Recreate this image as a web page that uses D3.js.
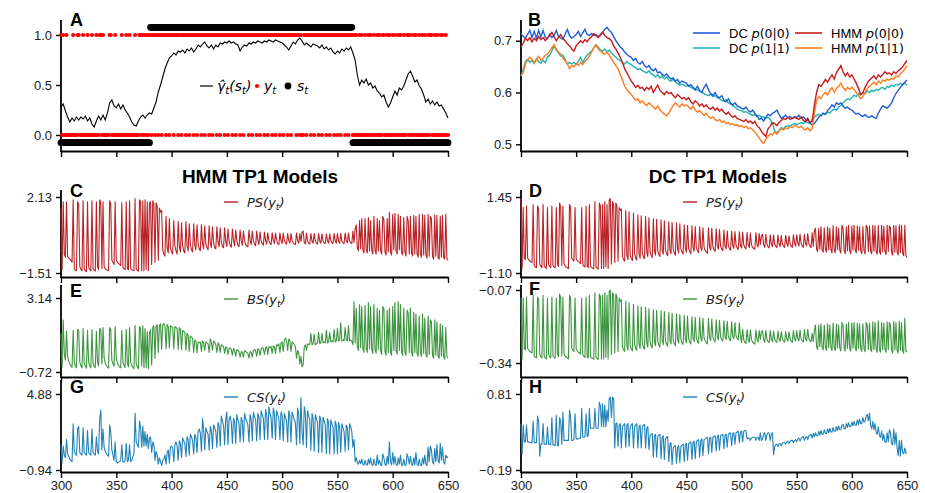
<!doctype html>
<html>
<head>
<meta charset="utf-8">
<script src="https://cdn.jsdelivr.net/npm/d3@7"></script>
<style>
  body { margin: 0; background: #fff; }
  svg text { font-family: "Liberation Sans", Arial, sans-serif; }
  .math { font-family: "DejaVu Sans", sans-serif; font-style: italic; }
  .letter, .title { font-weight: bold; }
</style>
</head>
<body>
<svg id="chart" width="925" height="493"></svg>
<script>
// time axis shared by every panel
var tStart = 300, tEnd = 650;
var xTickValues = [300, 350, 400, 450, 500, 550, 600, 650];

// hidden state runs [from, to, s]
var stRuns = [[300, 380, 0], [381, 563, 1], [564, 650, 0]];

// observations y_t, one per step 300..650
var yt = [
  1,0,1,0,0,1,0,0,0,0,0,1,0,0,0,1,1,0,0,0,1,0,0,0,1,
  0,0,0,1,0,0,0,1,0,0,1,1,0,1,0,0,0,0,0,1,1,0,0,0,1,
  0,0,0,0,0,1,0,0,0,1,0,0,1,0,0,0,0,1,0,0,0,1,1,0,1,
  0,1,0,1,0,1,1,0,1,1,0,1,1,0,1,1,0,1,1,1,0,1,1,0,1,
  1,1,0,1,1,1,0,1,1,0,1,1,1,0,1,1,0,1,1,1,0,1,1,0,1,
  1,1,0,1,1,0,1,1,1,0,1,1,0,1,1,1,0,1,1,0,1,1,1,0,1,
  1,0,1,1,1,0,1,1,0,1,1,1,0,1,1,0,1,1,1,1,0,1,1,0,1,
  1,1,0,1,1,0,1,1,1,0,1,1,0,1,1,1,0,1,1,0,1,1,1,0,1,
  1,0,1,1,1,0,1,1,0,1,1,1,1,0,1,1,0,1,0,0,1,1,0,1,1,
  1,0,1,1,0,1,1,1,0,1,1,0,1,1,1,0,1,1,0,1,1,1,0,1,1,
  0,1,1,0,1,1,1,0,1,1,0,1,1,1,0,1,0,1,0,0,1,0,1,0,0,
  1,0,0,1,0,1,0,0,1,0,0,1,0,1,0,0,1,1,0,0,1,0,1,0,0,
  1,0,1,0,0,1,0,1,0,0,1,0,0,1,1,0,1,0,0,1,0,1,0,0,1,
  0,0,1,0,1,0,0,1,0,1,1,0,0,1,0,1,0,0,1,0,1,0,0,1,0,0
];

// filtered state probability, every 2nd step 300..650
var gammaHat = [
  .28,.31,.24,.18,.13,.17,.14,.18,.15,.18,.16,.19,.14,.17,.11,.08,.14,.19,.15,.2,.15,.22,.32,.35,.29,
  .27,.31,.26,.3,.25,.22,.18,.13,.1,.09,.14,.18,.2,.17,.2,.22,.21,.27,.33,.43,.5,.58,.66,.72,.77,
  .79,.82,.8,.84,.83,.85,.82,.86,.84,.87,.83,.86,.9,.88,.91,.93,.89,.87,.9,.86,.9,.88,.92,.91,.93,
  .92,.94,.92,.93,.91,.9,.84,.88,.9,.89,.92,.91,.93,.92,.94,.93,.92,.94,.93,.95,.94,.93,.95,.94,.93,
  .92,.9,.88,.85,.89,.93,.91,.95,.97,.94,.9,.92,.9,.88,.91,.9,.89,.87,.9,.86,.88,.85,.87,.83,.81,
  .84,.82,.86,.84,.87,.85,.88,.82,.75,.6,.5,.55,.52,.56,.5,.52,.47,.49,.44,.42,.38,.4,.33,.28,.32,
  .38,.44,.4,.47,.45,.49,.55,.61,.64,.59,.53,.55,.49,.46,.4,.33,.36,.31,.34,.3,.33,.29,.3,.26,.22,
  .17
];

// transition probabilities, every 2nd step 300..650
var dcP00 = [
  .714,.708,.705,.712,.72,.706,.718,.705,.72,.707,.72,.706,.704,.712,.706,.71,.72,.708,.705,.703,.712,.722,.71,.705,.708,
  .712,.718,.708,.715,.722,.712,.71,.714,.71,.712,.708,.71,.716,.722,.726,.72,.716,.708,.7,.694,.688,.684,.678,.674,.67,
  .668,.662,.666,.658,.655,.66,.652,.648,.652,.645,.642,.646,.638,.64,.635,.632,.636,.63,.626,.628,.622,.625,.618,.622,.62,
  .618,.612,.615,.61,.606,.612,.604,.6,.61,.616,.605,.598,.594,.6,.592,.59,.594,.585,.582,.588,.58,.576,.58,.574,.572,
  .57,.568,.572,.565,.562,.566,.56,.555,.548,.55,.545,.552,.558,.555,.56,.562,.566,.558,.55,.553,.556,.551,.554,.55,.553,
  .552,.556,.55,.553,.548,.546,.542,.537,.54,.546,.552,.556,.56,.558,.565,.57,.576,.572,.58,.577,.58,.574,.57,.572,.568,
  .566,.562,.558,.56,.556,.554,.557,.553,.552,.555,.552,.55,.56,.568,.574,.572,.57,.574,.58,.59,.598,.604,.61,.615,.62,
  .624
];
var dcP11 = [
  .632,.645,.66,.664,.658,.662,.656,.665,.66,.656,.662,.658,.668,.672,.68,.69,.682,.676,.67,.672,.664,.655,.658,.655,.658,
  .654,.66,.668,.658,.666,.672,.676,.68,.686,.692,.688,.682,.68,.684,.678,.682,.676,.672,.668,.664,.662,.658,.655,.66,.656,
  .654,.65,.648,.644,.646,.642,.64,.638,.642,.636,.634,.63,.634,.628,.632,.626,.63,.624,.622,.626,.62,.618,.614,.616,.614,
  .612,.614,.61,.608,.604,.606,.602,.6,.598,.596,.594,.597,.592,.594,.59,.588,.585,.583,.586,.58,.578,.574,.572,.568,.566,
  .565,.562,.563,.56,.558,.556,.557,.554,.556,.552,.553,.55,.552,.548,.54,.526,.522,.527,.532,.53,.534,.536,.535,.538,.54,
  .538,.54,.542,.54,.544,.542,.54,.548,.552,.556,.558,.555,.56,.558,.562,.56,.565,.568,.566,.572,.575,.58,.584,.588,.586,
  .59,.595,.592,.598,.596,.6,.598,.603,.6,.604,.602,.606,.604,.608,.61,.606,.612,.61,.614,.612,.616,.614,.618,.615,.618,
  .614
];
var hmmP00 = [
  .688,.695,.705,.7,.706,.698,.705,.7,.708,.702,.706,.7,.705,.71,.716,.708,.7,.706,.712,.704,.7,.694,.69,.684,.68,
  .69,.695,.7,.696,.702,.698,.704,.708,.714,.71,.706,.712,.716,.71,.706,.704,.7,.69,.684,.676,.668,.658,.646,.638,.63,
  .622,.616,.61,.614,.608,.61,.604,.61,.606,.612,.6,.608,.614,.604,.6,.596,.602,.598,.6,.594,.59,.596,.592,.588,.59,
  .586,.59,.582,.578,.584,.58,.574,.578,.572,.576,.57,.568,.572,.566,.57,.564,.568,.562,.558,.562,.556,.552,.555,.55,.548,
  .546,.544,.548,.542,.545,.54,.544,.536,.532,.525,.52,.515,.53,.535,.542,.54,.536,.542,.546,.55,.548,.552,.548,.55,.552,
  .55,.548,.553,.546,.544,.55,.542,.545,.575,.6,.615,.612,.618,.625,.62,.628,.634,.626,.638,.645,.652,.64,.632,.638,.63,
  .634,.626,.618,.608,.596,.6,.61,.618,.624,.628,.632,.626,.634,.63,.635,.64,.636,.638,.634,.64,.637,.642,.645,.65,.656,
  .662
];
var hmmP11 = [
  .632,.638,.655,.662,.668,.664,.658,.664,.67,.662,.666,.672,.674,.68,.686,.692,.684,.678,.674,.666,.662,.656,.646,.652,.65,
  .656,.652,.658,.654,.66,.664,.67,.678,.686,.692,.684,.68,.676,.674,.678,.672,.665,.658,.652,.645,.635,.624,.612,.606,.6,
  .596,.59,.585,.588,.58,.584,.578,.575,.58,.576,.572,.568,.574,.566,.562,.558,.555,.56,.568,.575,.58,.576,.572,.578,.574,
  .576,.572,.568,.574,.566,.562,.565,.56,.556,.56,.554,.55,.553,.548,.545,.548,.542,.545,.54,.542,.538,.54,.536,.538,.534,
  .536,.532,.535,.53,.532,.528,.524,.518,.512,.506,.502,.51,.515,.52,.518,.524,.52,.526,.53,.528,.532,.53,.535,.532,.536,
  .535,.532,.535,.53,.528,.532,.526,.53,.56,.585,.592,.588,.596,.6,.595,.604,.61,.6,.608,.612,.618,.61,.604,.61,.606,
  .61,.606,.6,.594,.588,.592,.6,.608,.612,.616,.62,.615,.622,.618,.624,.622,.626,.624,.628,.626,.632,.63,.636,.64,.645,
  .652
];

// scores, one per step 300..650
var hmmPS = [
  1.6,-1.35,1.9,-0.6,-0.75,1.9,-0.7,-0.8,-0.85,-0.9,-1.0,2.0,-1.3,-1.38,-1.4,1.9,1.8,-1.2,-1.35,-1.4,1.95,-1.3,-1.4,-1.45,1.9,
  -1.2,-1.35,-1.4,1.95,-1.3,-1.38,-1.42,1.9,-1.2,-1.35,2.0,1.85,-1.3,1.9,-1.2,-1.3,-1.35,-1.38,-1.4,1.95,1.8,-0.9,-1.0,-1.1,1.9,
  -0.9,-1.0,-1.05,-1.1,-1.15,1.85,-1.25,-1.3,-1.35,1.9,-1.3,-1.35,1.95,-1.3,-1.35,-1.38,-1.4,2.05,-1.3,-1.38,-1.42,2.0,1.9,-1.4,1.95,
  -1.4,2.0,-1.35,1.9,-1.4,1.85,1.9,-1.1,1.95,1.8,-1.0,1.85,1.7,-0.9,1.6,1.4,1.5,-0.4,-0.6,-0.7,1.2,-0.3,-0.55,1.1,-0.3,
  -0.5,-0.6,1.0,-0.2,-0.45,-0.6,0.95,-0.25,-0.5,0.9,-0.2,-0.45,-0.55,0.95,-0.2,-0.45,0.85,-0.15,-0.4,-0.5,0.85,-0.15,-0.4,0.8,-0.1,
  -0.35,-0.45,0.8,-0.1,-0.35,0.75,-0.1,-0.3,-0.4,0.75,-0.05,-0.3,0.7,-0.05,-0.3,-0.35,0.7,0,-0.25,0.65,0,-0.25,-0.3,0.65,0,
  -0.25,0.6,0.05,-0.2,-0.28,0.6,0.05,-0.2,0.55,0.05,-0.2,-0.25,0.55,0.05,-0.18,0.5,0.05,-0.15,-0.22,-0.25,0.55,0.05,-0.15,0.5,0.05,
  -0.15,-0.2,0.5,0.05,-0.15,0.45,0.05,-0.12,-0.18,0.45,0.05,-0.12,0.42,0.05,-0.1,-0.15,0.42,0.05,-0.1,0.4,0.05,-0.1,-0.15,0.4,0.05,
  -0.1,0.4,0.05,-0.08,-0.12,0.38,0.05,-0.08,0.38,0.05,-0.08,-0.12,-0.15,0.4,0.05,-0.08,0.38,0,0.45,0.5,-0.05,-0.12,0.4,0.02,-0.1,
  -0.12,0.38,0.02,-0.08,0.38,0.03,-0.08,-0.12,0.38,0.03,-0.08,0.36,0.03,-0.08,-0.1,0.36,0.03,-0.08,0.36,0.03,-0.06,-0.1,0.38,0.03,-0.08,
  0.38,0.02,-0.08,0.38,0.02,-0.06,-0.1,0.4,0.02,-0.06,0.4,0.02,-0.06,-0.1,0.5,-0.05,0.6,0.8,-0.3,-0.45,1.0,-0.35,1.1,-0.4,-0.55,
  1.1,-0.4,-0.55,1.15,-0.45,1.0,-0.4,-0.6,1.2,-0.45,-0.6,1.1,-0.45,1.0,-0.45,-0.6,1.2,1.05,-0.5,-0.65,1.1,-0.5,1.4,-0.5,-0.65,
  1.3,-0.4,1.35,-0.45,-0.6,1.3,-0.4,1.2,-0.5,-0.65,1.15,-0.5,-0.7,1.2,1.0,-0.6,1.2,-0.55,-0.7,1.25,-0.6,1.2,-0.6,-0.75,1.3,
  -0.6,-0.75,1.3,-0.65,1.25,-0.65,-0.8,1.3,-0.7,1.2,1.1,-0.7,-0.85,1.25,-0.7,1.25,-0.75,-0.85,1.2,-0.75,1.25,-0.75,-0.85,1.3,-0.8,-0.9
];
var hmmBS = [
  1.3,-0.45,1.99,0.2,-0.1,1.4,0.1,-0.15,-0.3,-0.4,-0.48,1.45,-0.2,-0.4,-0.5,1.5,1.45,-0.2,-0.4,-0.5,1.55,-0.25,-0.42,-0.52,1.45,
  -0.2,-0.4,-0.5,1.5,-0.25,-0.42,-0.5,1.4,-0.2,-0.4,1.55,1.5,-0.3,1.6,0,-0.25,-0.38,-0.46,-0.52,1.6,1.5,-0.1,-0.3,-0.42,1.65,
  0,-0.25,-0.38,-0.46,-0.5,1.45,-0.2,-0.38,-0.48,1.5,-0.25,-0.45,1.6,-0.2,-0.38,-0.48,-0.55,1.7,-0.25,-0.45,-0.55,1.65,1.55,-0.4,1.7,
  -0.5,1.55,-0.5,1.4,-0.55,1.3,1.5,-0.35,1.6,1.7,0,1.65,1.75,0.3,1.7,1.8,0.45,1.75,1.8,1.7,0.5,1.75,1.65,0.55,1.7,
  1.65,1.6,0.5,1.65,1.6,1.55,0.45,1.6,1.5,0.45,1.45,1.4,1.35,0.4,1.3,1.2,0.35,1.15,1.1,1.05,0.3,0.95,0.9,0.3,0.85,
  0.8,0.85,0.35,0.9,0.8,0.4,0.85,0.8,0.75,0.3,1.0,0.85,0.4,0.9,0.85,0.7,0.3,0.8,0.7,0.3,0.7,0.65,0.6,0.25,0.6,
  0.55,0.2,0.5,0.55,0.45,0.15,0.5,0.4,0.1,0.45,0.4,0.35,0.05,0.35,0.3,0.05,0.4,0.35,0.3,0.25,0,0.35,0.3,0.05,0.4,
  0.45,0.4,0.1,0.5,0.45,0.15,0.5,0.55,0.5,0.2,0.55,0.6,0.2,0.6,0.55,0.6,0.25,0.65,0.6,0.25,0.7,0.65,0.75,0.3,0.8,
  0.85,0.35,0.95,1.05,0.9,0.4,1.0,0.9,0.35,0.85,0.8,0.7,0.6,0,0.4,0.3,-0.3,0.1,-0.45,-0.35,0.6,0.7,0.4,0.75,0.7,
  0.75,1.3,0.7,0.75,1.25,0.7,0.75,0.8,1.35,0.75,0.8,1.3,0.8,0.85,0.8,1.45,0.8,0.85,1.35,0.85,0.9,0.85,1.5,0.85,0.9,
  1.55,0.9,0.95,1.85,0.9,0.95,0.9,1.6,0.95,0.9,1.7,0.9,0.95,0.9,0.7,2.95,0.8,2.6,0.6,0.4,2.8,0.55,2.7,0.5,0.3,
  2.75,0.5,0.3,2.9,0.5,2.7,0.45,0.25,2.8,0.45,0.25,2.6,0.45,2.5,0.4,0.2,2.7,2.6,0.35,0.15,2.5,0.3,2.6,0.35,0.15,
  2.7,0.4,2.9,0.4,0.2,2.95,0.4,2.8,0.35,0.15,2.6,0.35,0.15,2.5,2.4,0.3,2.6,0.3,0.1,2.4,0.3,2.3,0.25,0.1,2.2,
  0.3,0.1,2.3,0.25,2.1,0.2,0.05,2.2,0.2,2.0,1.9,0.15,0,2.0,0.15,1.9,0.1,0,1.8,0.1,1.7,0.1,-0.05,1.6,0.1,0
];
var hmmCS = [
  1.0,-0.4,0.9,0.2,0,1.4,0.3,0.1,-0.1,-0.2,-0.3,2.6,0.5,0.3,0.2,2.2,2.4,0.4,0.3,0.2,2.3,0.4,0.3,0.2,2.1,
  0.4,0.3,0.2,2.2,0.4,0.3,0.2,1.6,0.5,0.3,3.0,3.65,0.6,2.2,0.8,0.5,0.3,0.2,0.1,2.5,2.0,0.6,0.2,-0.2,1.2,
  -0.3,-0.4,-0.35,-0.3,-0.2,1.0,-0.3,-0.35,-0.2,1.1,-0.3,-0.2,1.0,-0.3,-0.2,0.1,0.3,3.4,1.2,1.0,0.8,2.8,2.3,0.8,2.4,
  0.9,2.0,0.9,1.8,0.7,1.5,1.6,0.4,1.2,1.0,-0.2,0.5,0.2,-0.5,0,-0.3,-0.6,-0.2,-0.1,0.2,-0.5,0.4,0.6,-0.4,0.8,
  0.9,0.7,-0.3,1.0,1.2,0.9,-0.2,1.3,1.1,0,1.5,1.3,1.1,0.1,1.6,1.4,0.2,1.8,1.6,1.3,0.3,1.8,1.6,0.4,2.0,
  2.2,1.9,0.5,3.0,2.2,0.6,2.3,2.0,1.8,0.6,2.4,2.1,0.7,2.5,2.3,2.0,0.8,2.7,2.4,0.9,3.2,2.8,2.5,1.0,3.0,
  3.5,1.0,2.9,3.2,2.7,1.1,3.0,2.8,1.1,3.3,2.9,2.6,1.2,3.1,2.8,1.2,3.4,3.0,2.8,2.5,1.2,3.3,3.0,1.3,3.5,
  3.1,2.9,1.3,3.4,3.1,1.4,3.6,3.3,3.0,1.4,3.7,3.3,1.4,3.9,3.4,3.1,1.5,3.8,3.4,1.4,3.6,3.3,3.0,1.4,3.5,
  3.2,1.3,3.4,3.1,2.8,1.2,3.6,3.2,1.2,3.5,3.2,2.9,2.7,1.0,3.8,3.3,1.1,4.6,2.0,1.0,3.9,3.4,0.8,3.6,3.2,
  2.9,0.6,3.4,3.0,0.5,3.3,3.0,2.7,0.4,3.2,2.9,0.4,3.1,2.8,2.5,0.3,3.0,2.7,0.3,2.9,2.6,2.3,0.3,2.8,2.5,
  0.3,2.7,2.4,0.4,2.6,2.3,2.0,0.5,2.5,2.3,0.6,2.6,2.4,2.0,0.8,1.4,-0.3,0,-0.4,-0.5,-0.2,-0.45,-0.1,-0.5,-0.55,
  -0.2,-0.5,-0.55,-0.1,-0.5,0,-0.5,-0.6,-0.1,-0.5,-0.6,0.2,-0.5,-0.2,-0.55,-0.6,0.3,0,-0.5,-0.6,0.1,-0.5,1.2,-0.3,-0.55,
  0.4,-0.5,0.1,-0.5,-0.6,0,-0.5,0.2,-0.55,-0.6,-0.1,-0.55,-0.6,0.3,0,-0.5,0.1,-0.5,-0.6,0,-0.55,0.4,-0.5,-0.6,-0.1,
  -0.55,-0.6,0,-0.5,0.2,-0.5,-0.6,0.8,-0.3,0.9,0.6,-0.3,-0.5,0.7,-0.3,1.0,-0.2,-0.4,1.1,-0.2,0.8,-0.3,-0.5,0.2,0,0.1
];
var dcPS = [
  1.42,-0.95,1.1,-0.6,-0.65,1.15,-0.6,-0.65,-0.7,-0.72,-0.75,1.2,-0.85,-0.9,-0.92,1.15,1.05,-0.8,-0.88,-0.92,1.2,-0.85,-0.92,-0.95,1.1,
  -0.8,-0.88,-0.92,1.15,-0.85,-0.9,-0.93,1.1,-0.8,-0.88,1.25,1.1,-0.85,1.15,-0.8,-0.86,-0.9,-0.92,-0.95,1.2,1.1,-0.6,-0.65,-0.7,1.1,
  -0.62,-0.68,-0.72,-0.75,-0.78,1.1,-0.82,-0.86,-0.9,1.15,-0.88,-0.92,1.2,-0.88,-0.92,-0.94,-0.96,1.3,-0.9,-0.94,-0.97,1.25,1.15,-0.95,1.2,
  -0.95,1.3,-0.9,1.2,-0.95,1.35,1.4,-0.8,1.3,1.2,-0.75,1.25,1.15,-0.7,1.1,1.0,1.05,-0.55,-0.65,-0.7,1.0,-0.5,-0.65,0.95,-0.5,
  -0.62,-0.68,0.9,-0.45,-0.6,-0.66,0.85,-0.45,-0.6,0.82,-0.42,-0.56,-0.62,0.8,-0.4,-0.55,0.75,-0.38,-0.52,-0.58,0.72,-0.36,-0.5,0.7,-0.35,
  -0.48,-0.55,0.68,-0.34,-0.47,0.65,-0.33,-0.45,-0.52,0.62,-0.32,-0.45,0.6,-0.3,-0.43,-0.5,0.58,-0.3,-0.42,0.55,-0.28,-0.4,-0.46,0.52,-0.28,
  -0.4,0.5,-0.27,-0.38,-0.45,0.48,-0.26,-0.37,0.46,-0.25,-0.36,-0.42,0.45,-0.25,-0.35,0.42,-0.24,-0.34,-0.4,-0.44,0.42,-0.23,-0.33,0.4,-0.22,
  -0.32,-0.38,0.38,-0.2,-0.3,0.36,-0.2,-0.3,-0.35,0.34,-0.2,-0.29,0.32,-0.18,-0.28,-0.33,0.3,-0.18,-0.27,0.29,-0.17,-0.26,-0.31,0.28,-0.17,
  -0.26,0.27,-0.16,-0.25,-0.29,0.26,-0.15,-0.24,0.24,-0.15,-0.24,-0.28,-0.3,0.25,-0.14,-0.23,0.22,-0.14,0.15,0.2,-0.15,-0.24,0.2,-0.13,-0.22,
  -0.26,0.18,-0.13,-0.22,0.17,-0.12,-0.21,-0.25,0.17,-0.12,-0.21,0.16,-0.12,-0.2,-0.24,0.16,-0.11,-0.2,0.15,-0.11,-0.2,-0.24,0.18,-0.1,-0.2,
  0.18,-0.1,-0.2,0.2,-0.1,-0.19,-0.24,0.2,-0.1,-0.19,0.22,-0.1,-0.2,-0.25,0.25,-0.2,0.3,0.4,-0.3,-0.38,0.4,-0.3,0.45,-0.32,-0.4,
  0.42,-0.3,-0.4,0.45,-0.32,0.4,-0.3,-0.42,0.48,-0.32,-0.42,0.45,-0.32,0.4,-0.33,-0.43,0.5,0.42,-0.35,-0.45,0.45,-0.35,0.5,-0.35,-0.45,
  0.48,-0.33,0.5,-0.33,-0.43,0.48,-0.33,0.45,-0.35,-0.45,0.45,-0.35,-0.46,0.5,0.42,-0.38,0.48,-0.36,-0.46,0.5,-0.37,0.48,-0.37,-0.47,0.5,
  -0.37,-0.47,0.5,-0.38,0.47,-0.38,-0.48,0.5,-0.38,0.48,0.42,-0.4,-0.5,0.5,-0.4,0.48,-0.4,-0.5,0.52,-0.42,0.5,-0.42,-0.52,0.5,-0.52,-0.58
];
var dcBS = [
  -0.1,-0.325,-0.1,-0.286,-0.292,-0.096,-0.286,-0.292,-0.297,-0.3,-0.303,-0.09,-0.314,-0.319,-0.321,-0.096,-0.106,-0.308,-0.317,-0.321,-0.09,-0.314,-0.321,-0.325,-0.1,
  -0.308,-0.317,-0.321,-0.096,-0.314,-0.319,-0.322,-0.1,-0.308,-0.317,-0.085,-0.1,-0.314,-0.096,-0.308,-0.315,-0.319,-0.321,-0.325,-0.09,-0.1,-0.286,-0.292,-0.297,-0.1,
  -0.288,-0.295,-0.3,-0.303,-0.306,-0.1,-0.31,-0.315,-0.319,-0.096,-0.317,-0.321,-0.09,-0.317,-0.321,-0.323,-0.326,-0.08,-0.319,-0.323,-0.327,-0.085,-0.096,-0.325,-0.09,
  -0.325,-0.08,-0.319,-0.09,-0.325,-0.075,-0.07,-0.308,-0.08,-0.09,-0.303,-0.085,-0.096,-0.297,-0.1,-0.112,-0.106,-0.281,-0.292,-0.297,-0.112,-0.276,-0.292,-0.117,-0.276,
  -0.289,-0.295,-0.123,-0.27,-0.286,-0.293,-0.128,-0.27,-0.286,-0.132,-0.267,-0.282,-0.289,-0.134,-0.265,-0.281,-0.139,-0.262,-0.278,-0.284,-0.143,-0.26,-0.276,-0.145,-0.259,
  -0.273,-0.281,-0.147,-0.258,-0.272,-0.15,-0.257,-0.27,-0.278,-0.153,-0.256,-0.27,-0.156,-0.254,-0.268,-0.276,-0.158,-0.254,-0.267,-0.161,-0.252,-0.265,-0.271,-0.164,-0.252,
  -0.265,-0.166,-0.25,-0.262,-0.27,-0.169,-0.249,-0.261,-0.171,-0.248,-0.26,-0.267,-0.172,-0.248,-0.259,-0.175,-0.247,-0.258,-0.265,-0.269,-0.175,-0.246,-0.257,-0.177,-0.245,
  -0.256,-0.262,-0.18,-0.243,-0.254,-0.182,-0.243,-0.254,-0.259,-0.184,-0.243,-0.253,-0.186,-0.241,-0.252,-0.257,-0.188,-0.241,-0.25,-0.19,-0.24,-0.249,-0.255,-0.191,-0.24,
  -0.265,-0.215,-0.255,-0.264,-0.268,-0.216,-0.254,-0.263,-0.218,-0.254,-0.263,-0.267,-0.27,-0.218,-0.253,-0.262,-0.22,-0.253,-0.225,-0.22,-0.254,-0.263,-0.22,-0.252,-0.261,
  -0.265,-0.22,-0.252,-0.261,-0.222,-0.252,-0.26,-0.264,-0.222,-0.251,-0.26,-0.224,-0.251,-0.259,-0.263,-0.224,-0.25,-0.259,-0.225,-0.25,-0.259,-0.263,-0.22,-0.25,-0.258,
  -0.22,-0.25,-0.258,-0.218,-0.25,-0.258,-0.262,-0.216,-0.25,-0.258,-0.215,-0.25,-0.258,-0.262,-0.23,-0.26,-0.22,-0.2,-0.28,-0.29,-0.2,-0.28,-0.195,-0.282,-0.292,
  -0.2,-0.282,-0.293,-0.195,-0.283,-0.2,-0.282,-0.294,-0.192,-0.284,-0.294,-0.196,-0.284,-0.2,-0.285,-0.295,-0.19,-0.2,-0.286,-0.296,-0.195,-0.286,-0.19,-0.286,-0.296,
  -0.192,-0.284,-0.19,-0.285,-0.295,-0.192,-0.285,-0.195,-0.287,-0.297,-0.195,-0.287,-0.298,-0.19,-0.2,-0.29,-0.192,-0.289,-0.298,-0.188,-0.29,-0.19,-0.29,-0.3,-0.185,
  -0.29,-0.3,-0.19,-0.29,-0.192,-0.29,-0.3,-0.188,-0.291,-0.19,-0.2,-0.292,-0.302,-0.186,-0.292,-0.19,-0.293,-0.303,-0.185,-0.293,-0.19,-0.294,-0.304,-0.175,-0.295,-0.3
];
var dcCS = [
  0.42,0.02,0.4,0.18,0.18,0.4,0.18,0.18,0.17,0.17,0.17,0.45,0.17,0.17,0.17,0.52,0.45,-0.01,0.15,0.15,0.42,0.15,0.15,0.15,0.38,
  0.15,0.15,0.14,0.5,0.14,0.14,0.13,0.53,0.13,0.13,0.5,0.45,0.15,0.57,0.2,0.2,0.2,0.2,0.2,0.6,0.5,0.2,0.2,0.21,0.55,
  0.22,0.22,0.22,0.23,0.23,0.62,0.24,0.24,0.25,0.55,0.25,0.26,0.62,0.36,0.36,0.36,0.36,0.62,0.36,0.36,0.36,0.7,0.66,0.38,0.68,
  0.38,0.66,0.38,0.6,0.45,0.75,0.77,0.5,0.77,0.75,0.1,0.42,0.43,0.12,0.4,0.42,0.1,0.38,0.4,0.42,0.11,0.4,0.42,0.12,0.38,
  0.4,0.42,0.1,0.38,0.4,0.42,0.1,0.38,0.4,0.1,0.38,0.4,0.41,0.1,0.36,0.38,0.08,0.26,0.28,0.29,-0.02,0.26,0.28,-0.02,0.25,
  0.27,0.28,-0.04,0.24,0.26,-0.05,0.22,0.24,0.25,-0.08,0.15,0.17,-0.12,0.1,0.12,0.13,-0.1,0.11,0.13,-0.09,0.12,0.14,0.15,-0.08,0.14,
  0.16,-0.06,0.15,0.17,0.18,-0.05,0.17,0.19,-0.04,0.18,0.2,0.21,-0.02,0.2,0.22,0,0.21,0.22,0.23,0.24,0.02,0.23,0.24,0.04,0.24,
  0.25,0.26,0.06,0.25,0.27,0.07,0.26,0.27,0.28,0.09,0.27,0.28,0.11,0.28,0.29,0.3,0.13,0.29,0.3,0.15,0.3,0.31,0.32,0.17,0.31,
  0.32,0.18,0.32,0.33,0.33,0.22,0.23,0.23,0.2,0.23,0.24,0.24,0.24,0.2,0.24,0.24,0.2,0.3,0.2,0.22,0.28,0.3,0.2,0.28,0.3,
  0.3,0.2,0.28,0.3,0.01,0.12,0.14,0.15,0.12,0.15,0.16,0.13,0.16,0.17,0.17,0.15,0.18,0.19,0.16,0.19,0.2,0.2,0.17,0.2,0.21,
  0.18,0.22,0.23,0.19,0.23,0.24,0.25,0.2,0.24,0.25,0.21,0.26,0.27,0.28,0.23,0.29,0.25,0.3,0.26,0.26,0.32,0.27,0.33,0.28,0.28,
  0.34,0.29,0.29,0.35,0.3,0.36,0.31,0.31,0.37,0.32,0.32,0.38,0.33,0.39,0.34,0.34,0.4,0.41,0.35,0.35,0.42,0.37,0.43,0.38,0.38,
  0.44,0.39,0.45,0.4,0.4,0.47,0.41,0.48,0.42,0.42,0.5,0.44,0.45,0.52,0.54,0.46,0.56,0.4,0.35,0.45,0.34,0.42,0.3,0.28,0.38,
  0.26,0.24,0.32,0.2,0.28,0.18,0.17,0.3,0.18,0.34,0.3,0.16,0.14,0.35,0.15,0.3,0.1,0,0.2,-0.01,0.2,0.04,0.02,0.1,0.03,0.03
];

var svg = d3.select("#chart");
svg.append("rect").attr("width", 925).attr("height", 493).attr("fill", "#fff");

var cols = [{ x0: 61, x1: 448 }, { x0: 521, x1: 907 }];
function xScale(c) {
  return d3.scaleLinear().domain([tStart, tEnd]).range([cols[c].x0, cols[c].x1]);
}

function styleAxis(g) {
  g.attr("font-family", "Liberation Sans, Arial, sans-serif").attr("font-size", 13);
  g.selectAll(".tick line").attr("stroke", "#000").attr("stroke-width", 1.4);
  g.selectAll(".tick text").attr("fill", "#222");
  g.selectAll(".domain").attr("stroke", "#000").attr("stroke-width", 1.8);
}

// axes frame: left spine + bottom spine with ticks
function frame(c, top, bottom, y, yTicks, fmt, xLabels) {
  var x = xScale(c);
  var gx = svg.append("g").attr("transform", "translate(0," + bottom + ")")
    .call(d3.axisBottom(x).tickValues(xTickValues).tickSize(6).tickSizeOuter(0)
      .tickPadding(3).tickFormat(xLabels ? d3.format("d") : ""));
  styleAxis(gx);
  var gy = svg.append("g").attr("transform", "translate(" + cols[c].x0 + ",0)")
    .call(d3.axisLeft(y).tickValues(yTicks).tickSize(5).tickSizeOuter(0).tickPadding(4).tickFormat(fmt));
  styleAxis(gy);
  gy.select(".domain").remove();
  svg.append("line").attr("x1", cols[c].x0).attr("x2", cols[c].x0)
    .attr("y1", top).attr("y2", bottom + 0.9)
    .attr("stroke", "#000").attr("stroke-width", 1.8);
}

function letter(txt, x, y) {
  svg.append("text").attr("class", "letter").attr("x", x).attr("y", y)
    .attr("font-size", 18).text(txt);
}

// ---------- panel A ----------
var xA = xScale(0);
var yA = d3.scaleLinear().domain([0, 1]).range([135, 35]);
frame(0, 20, 151, yA, [0, 0.5, 1], d3.format(".1f"), false);

stRuns.forEach(function (r) {
  svg.append("g").selectAll("circle").data(d3.range(r[0], r[1] + 1)).join("circle")
    .attr("cx", function (t) { return xA(t); })
    .attr("cy", yA(r[2] ? 1.077 : -0.077))
    .attr("r", 3.4).attr("fill", "#000");
});
svg.append("g").selectAll("circle").data(yt).join("circle")
  .attr("cx", function (d, i) { return xA(tStart + i); })
  .attr("cy", function (d) { return yA(d); })
  .attr("r", 2.1).attr("fill", "#f00");
svg.append("path").datum(gammaHat)
  .attr("d", d3.line().x(function (d, i) { return xA(tStart + 2 * i); }).y(function (d) { return yA(d); }))
  .attr("fill", "none").attr("stroke", "#000").attr("stroke-width", 1.1);

// legend A
svg.append("line").attr("x1", 200).attr("x2", 213).attr("y1", 86).attr("y2", 86)
  .attr("stroke", "#000").attr("stroke-width", 1.2);
var lgA = svg.append("text").attr("class", "math").attr("x", 217).attr("y", 91).attr("font-size", 14);
lgA.append("tspan").text("\u03B3\u0302");
lgA.append("tspan").attr("font-size", 10).attr("dy", 3).text("t");
lgA.append("tspan").attr("dy", -3).text("(s");
lgA.append("tspan").attr("font-size", 10).attr("dy", 3).text("t");
lgA.append("tspan").attr("dy", -3).text(")");
svg.append("circle").attr("cx", 257).attr("cy", 86).attr("r", 2.1).attr("fill", "#f00");
var lgY = svg.append("text").attr("class", "math").attr("x", 264).attr("y", 91).attr("font-size", 14);
lgY.append("tspan").text("y");
lgY.append("tspan").attr("font-size", 10).attr("dy", 3).text("t");
svg.append("circle").attr("cx", 288).attr("cy", 86).attr("r", 3.4).attr("fill", "#000");
var lgS = svg.append("text").attr("class", "math").attr("x", 297).attr("y", 91).attr("font-size", 14);
lgS.append("tspan").text("s");
lgS.append("tspan").attr("font-size", 10).attr("dy", 3).text("t");
letter("A", 70, 26);

// ---------- panel B ----------
var xB = xScale(1);
var yB = d3.scaleLinear().domain([0.5, 0.7]).range([144.3, 40.7]);
frame(1, 20, 151, yB, [0.5, 0.6, 0.7], d3.format(".1f"), false);
var seriesB = [
  { data: dcP11, color: "#22b2b0", model: "DC ", lab: "p(1|1)", col: 0, row: 1 },
  { data: dcP00, color: "#1f5fd6", model: "DC ", lab: "p(0|0)", col: 0, row: 0 },
  { data: hmmP11, color: "#ff7a1a", model: "HMM ", lab: "p(1|1)", col: 1, row: 1 },
  { data: hmmP00, color: "#c81c1c", model: "HMM ", lab: "p(0|0)", col: 1, row: 0 }
];
var lineB = d3.line().x(function (d, i) { return xB(tStart + 2 * i); }).y(function (d) { return yB(d); });
seriesB.forEach(function (s) {
  svg.append("path").datum(s.data).attr("d", lineB)
    .attr("fill", "none").attr("stroke", s.color).attr("stroke-width", 1.4);
  var lx = s.col ? 795 : 693, ly = s.row ? 48 : 33;
  svg.append("line").attr("x1", lx).attr("x2", lx + 27).attr("y1", ly).attr("y2", ly)
    .attr("stroke", s.color).attr("stroke-width", 1.6);
  var tx = svg.append("text").attr("x", lx + 36).attr("y", ly + 5).attr("font-size", 13);
  tx.append("tspan").text(s.model);
  tx.append("tspan").attr("class", "math").text("p");
  tx.append("tspan").attr("font-family", "DejaVu Sans").attr("font-size", 12.5).text(s.lab.slice(1));
});
letter("B", 528, 26);

// ---------- score panels ----------
svg.append("text").attr("class", "title").attr("x", 260).attr("y", 183)
  .attr("text-anchor", "middle").attr("font-size", 19).text("HMM TP1 Models");
svg.append("text").attr("class", "title").attr("x", 718).attr("y", 183)
  .attr("text-anchor", "middle").attr("font-size", 19).text("DC TP1 Models");

var scorePanels = [
  { id: "C", c: 0, data: hmmPS, lo: -1.51, hi: 2.13, yLo: 273, yHi: 197, top: 190, bottom: 277, color: "#bb2226", name: "PS", ly: 202, lt: 197 },
  { id: "D", c: 1, data: dcPS, lo: -1.10, hi: 1.45, yLo: 273, yHi: 197, top: 190, bottom: 277, color: "#bb2226", name: "PS", ly: 202, lt: 197 },
  { id: "E", c: 0, data: hmmBS, lo: -0.72, hi: 3.14, yLo: 372, yHi: 298, top: 285, bottom: 377, color: "#3d963f", name: "BS", ly: 299, lt: 297 },
  { id: "F", c: 1, data: dcBS, lo: -0.34, hi: -0.07, yLo: 363, yHi: 290, top: 285, bottom: 377, color: "#3d963f", name: "BS", ly: 299, lt: 295 },
  { id: "G", c: 0, data: hmmCS, lo: -0.94, hi: 4.88, yLo: 470, yHi: 394, top: 380, bottom: 472, color: "#2182b6", name: "CS", ly: 397, lt: 393 },
  { id: "H", c: 1, data: dcCS, lo: -0.19, hi: 0.81, yLo: 470, yHi: 394, top: 380, bottom: 472, color: "#2182b6", name: "CS", ly: 397, lt: 393 }
];

scorePanels.forEach(function (p) {
  var x = xScale(p.c);
  var y = d3.scaleLinear().domain([p.lo, p.hi]).range([p.yLo, p.yHi]);
  frame(p.c, p.top, p.bottom, y, [p.lo, p.hi], d3.format(".2f"), p.bottom > 460);
  svg.append("path").datum(p.data)
    .attr("d", d3.line().x(function (d, i) { return x(tStart + i); }).y(function (d) { return y(d); }))
    .attr("fill", "none").attr("stroke", p.color).attr("stroke-width", 1.1)
    .attr("stroke-linejoin", "round");
  var lx = p.c ? 683 : 224;
  svg.append("line").attr("x1", lx).attr("x2", lx + 14).attr("y1", p.ly).attr("y2", p.ly)
    .attr("stroke", p.color).attr("stroke-width", 1.4);
  var tx = svg.append("text").attr("class", "math").attr("x", lx + 23).attr("y", p.ly + 5)
    .attr("font-size", 13).attr("fill", "#222");
  tx.append("tspan").text(p.name + "(y");
  tx.append("tspan").attr("font-size", 9.5).attr("dy", 3).text("t");
  tx.append("tspan").attr("dy", -3).text(")");
  letter(p.id, p.c ? 529 : 70, p.lt);
});
</script>
</body>
</html>
